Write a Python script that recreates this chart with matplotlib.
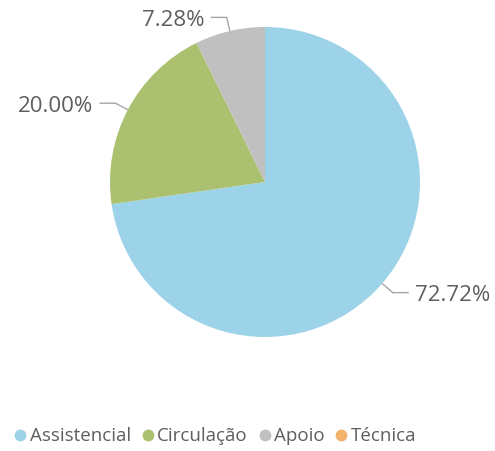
import numpy as np
import matplotlib
matplotlib.use("Agg")
import matplotlib.pyplot as plt
from matplotlib.lines import Line2D

# data
categories = ["Assistencial", "Circulação", "Apoio", "Técnica"]
values = [72.72, 20.00, 7.28, 0.0]
colors = ["#9DD3E8", "#ABC170", "#C0C0C0", "#F2B36F"]
text_color = "#605E5C"
line_color = "#A6A6A6"

plt.rcParams['font.family'] = ['Open Sans', 'DejaVu Sans']

W, H = 495, 451
fig = plt.figure(figsize=(W / 100, H / 100), dpi=100)
ax = fig.add_axes([0, 0, 1, 1])

cx, cy, r = 265, H - 182, 155
wedges, _ = ax.pie(values, colors=colors, startangle=90, counterclock=False,
                   center=(cx, cy), radius=r, frame=True,
                   wedgeprops=dict(linewidth=0))
ax.set_xlim(0, W)
ax.set_ylim(0, H)
ax.set_aspect('equal')
ax.axis('off')

# labels with leader lines (side: +1 right, -1 left)
label_side = [1, -1, -1, None]
for w, v, side in zip(wedges, values, label_side):
    if v <= 0:
        continue
    mid = np.deg2rad((w.theta1 + w.theta2) / 2)
    x0, y0 = cx + r * np.cos(mid), cy + r * np.sin(mid)
    x1, y1 = cx + (r + 14) * np.cos(mid), cy + (r + 14) * np.sin(mid)
    x2 = x1 + side * 16
    ax.plot([x0, x1, x2], [y0, y1, y1], color=line_color, lw=1, solid_capstyle='butt')
    ax.text(x2 + side * 6, y1 - 3, f"{v:.2f}%", color=text_color, fontsize=16,
            ha='left' if side > 0 else 'right', va='center')

handles = [Line2D([], [], marker='o', linestyle='none', markersize=8.5,
                  markerfacecolor=c, markeredgecolor='none') for c in colors]
leg = fig.legend(handles, categories, loc='lower left', bbox_to_anchor=(-0.012, -0.025),
                 ncol=4, frameon=False, handletextpad=0.0, columnspacing=0.4,
                 handlelength=1.0, fontsize=13.5, labelcolor=text_color)

fig.savefig("out.png", dpi=100)
